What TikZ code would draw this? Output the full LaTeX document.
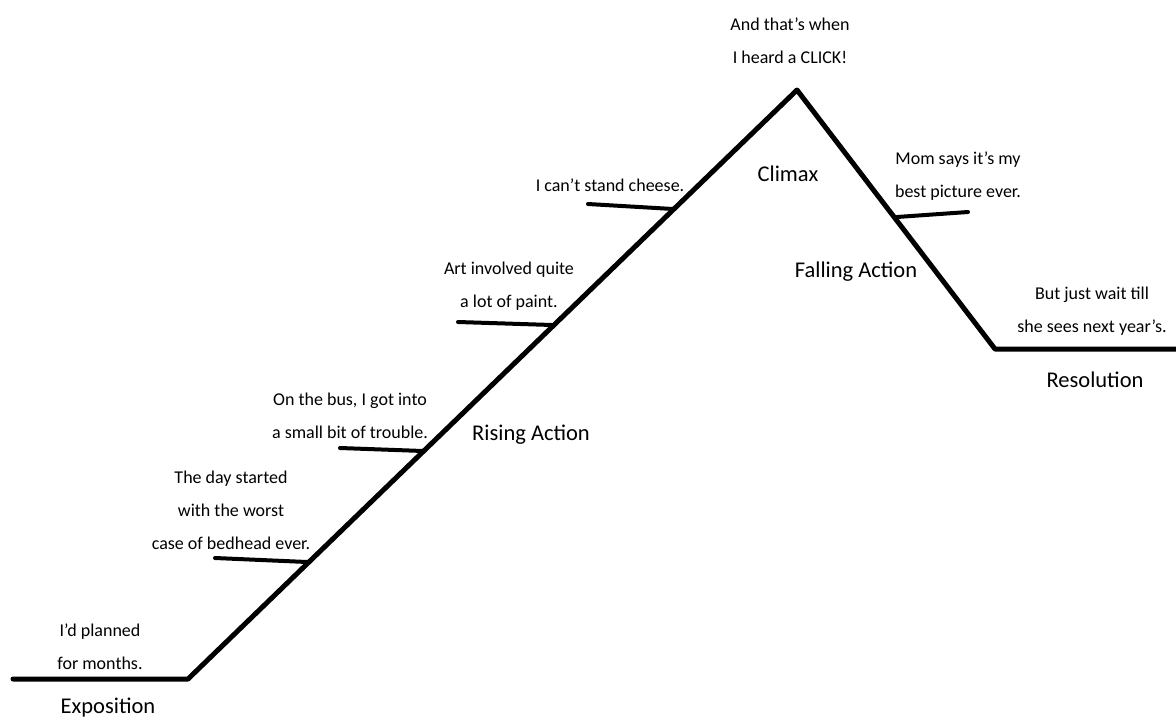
\documentclass[tikz,border=0pt]{standalone}
\usepackage{fontspec}
\setmainfont{Carlito}
\begin{document}
\begin{tikzpicture}[x=1pt,y=-1pt,
  plotline/.style={line width=5pt,line join=round,line cap=round,black},
  tickline/.style={line width=4pt,line cap=round,black},
  small/.style={font=\fontsize{18}{33}\selectfont,align=center,anchor=base,inner sep=0pt,text=black},
  big/.style={font=\fontsize{22.5}{27}\selectfont,anchor=base,inner sep=0pt,text=black}]
\useasboundingbox (0,0) rectangle (1176,718);
% main plot line
\coordinate (s) at (13,679);
\coordinate (b) at (188,679);
\coordinate (p) at (797,90);
\coordinate (f) at (995,349);
\coordinate (e) at (1176,349);
\draw[plotline] (s) -- (b) -- (p) -- (f) -- (e);
% ticks
\coordinate (t1a) at (215,558); \coordinate (t1b) at (307,562);
\coordinate (t2a) at (340,448); \coordinate (t2b) at (423,451);
\coordinate (t3a) at (458,322); \coordinate (t3b) at (552,325);
\coordinate (t4a) at (588,204); \coordinate (t4b) at (673,209);
\coordinate (t5a) at (897,217); \coordinate (t5b) at (968,212);
\draw[tickline] (t1a) -- (t1b);
\draw[tickline] (t2a) -- (t2b);
\draw[tickline] (t3a) -- (t3b);
\draw[tickline] (t4a) -- (t4b);
\draw[tickline] (t5a) -- (t5b);
% event texts (base anchor = baseline of last line)
\node[small] (e1) at (100,669) {I’d planned\\for months.};
\node[small] (e2) at (231,549) {The day started\\with the worst\\case of bedhead ever.};
\node[small] (e3) at (350,438) {On the bus, I got into\\a small bit of trouble.};
\node[small] (e4) at (509,307) {Art involved quite\\a lot of paint.};
\node[small] (e5) at (610,191) {I can’t stand cheese.};
\node[small] (e6) at (790,63) {And that’s when\\I heard a CLICK!};
\node[small] (e7) at (958,197) {Mom says it’s my\\best picture ever.};
\node[small] (e8) at (1092,332) {But just wait till\\she sees next year’s.};
% stage labels
\node[big] (l1) at (108,713) {Exposition};
\node[big] (l2) at (531,440) {Rising Action};
\node[big] (l3) at (788,181) {Climax};
\node[big] (l4) at (856,277) {Falling Action};
\node[big] (l5) at (1095,387) {Resolution};
\end{tikzpicture}
\end{document}
